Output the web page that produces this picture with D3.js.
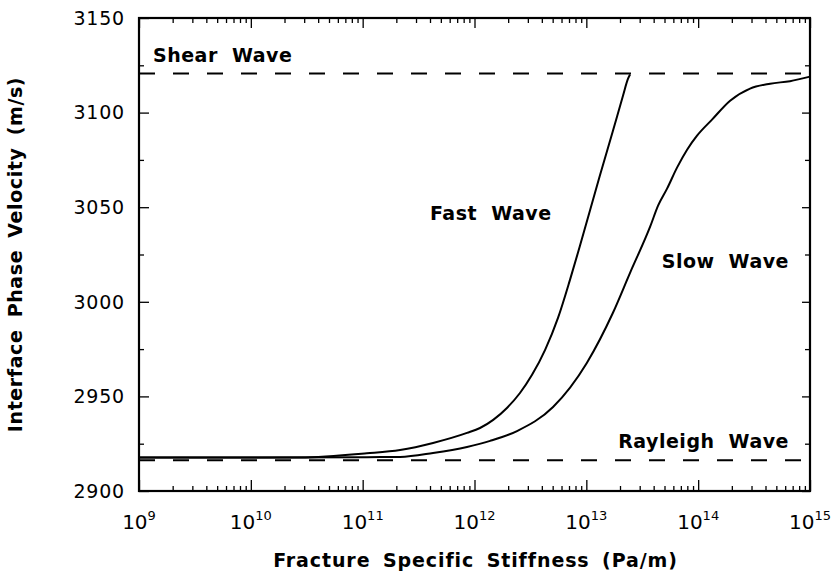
<!DOCTYPE html>
<html>
<head>
<meta charset="utf-8">
<script src="https://cdn.jsdelivr.net/npm/d3@7"></script>
<style>
  html, body { margin: 0; padding: 0; background: #fff; }
  svg { display: block; }
  text { font-family: "DejaVu Sans", sans-serif; fill: #000; }
</style>
</head>
<body>
<svg id="chart" width="837" height="577"></svg>
<script>
// ---- data ----
const fastStiffness = [1e9, 2.75e10, 1.09e11, 2.16e11, 4.26e11, 8.57e11, 1.12e12, 1.47e12, 1.95e12,
  2.55e12, 3.27e12, 4.28e12, 5.58e12, 7.14e12, 8.77e12, 1.32e13, 1.73e13, 2.13e13, 2.36e13, 2.46e13];
const fastVelocity = [2917.7, 2917.7, 2919.9, 2921.7, 2925.4, 2930.7, 2933.3, 2937.6, 2943.9,
  2951.8, 2961.4, 2974.6, 2991.5, 3011.6, 3029.6, 3066.6, 3090.4, 3109.0, 3117.9, 3120.1];

const slowStiffness = [1e9, 1.09e11, 2.16e11, 4.26e11, 8.57e11, 1.38e12, 2.4e12, 5.04e12,
  1.01e13, 1.73e13, 2.46e13, 3.72e13, 4.38e13, 5.27e13, 6.47e13, 7.96e13, 9.77e13, 1.33e14,
  1.93e14, 2.91e14, 4.40e14, 6.62e14, 1e15];
const slowVelocity = [2917.7, 2917.9, 2918.0, 2920.1, 2923.3, 2926.5, 2931.7, 2944.4,
  2967.7, 2994.2, 3015.3, 3039.7, 3050.8, 3059.8, 3070.9, 3080.4, 3087.8, 3096.3,
  3106.3, 3112.7, 3115.3, 3116.6, 3119.0];

const shearVelocity = 3120.6;
const rayleighVelocity = 2916.2;

const yTickValues = [2900, 2950, 3000, 3050, 3100, 3150];
const yMinorValues = [2925, 2975, 3025, 3075, 3125];
const xTickExponents = [9, 10, 11, 12, 13, 14, 15];

const xTitle = "Fracture Specific Stiffness (Pa/m)";
const yTitle = "Interface Phase Velocity (m/s)";
const curveLabels = ["Shear Wave", "Fast Wave", "Slow Wave", "Rayleigh Wave"];

// ---- layout ----
const W = 837, H = 577;
const margin = { left: 139, right: 27, top: 18, bottom: 86 };
const x0 = margin.left, x1 = W - margin.right, y0 = margin.top, y1 = H - margin.bottom;

const svg = d3.select("#chart");
const x = d3.scaleLog().domain([1e9, 1e15]).range([x0, x1]);
const y = d3.scaleLinear().domain([2900, 3150]).range([y1, y0]);

const ink = "#000";

// minor log values
const xMinor = [];
for (let d = 9; d < 15; d++) for (let k = 2; k <= 9; k++) xMinor.push(k * Math.pow(10, d));
const xMajor = xTickExponents.map(e => Math.pow(10, e));

// ---- axes (ticks pointing inward) ----
const gb = svg.append("g").attr("transform", `translate(0,${y1})`);
gb.call(d3.axisTop(x).tickValues(xMajor).tickSize(11).tickFormat(""));
gb.append("g").call(d3.axisTop(x).tickValues(xMinor).tickSize(5).tickFormat(""));
const gt = svg.append("g").attr("transform", `translate(0,${y0})`);
gt.call(d3.axisBottom(x).tickValues(xMajor).tickSize(10).tickFormat(""));
gt.append("g").call(d3.axisBottom(x).tickValues(xMinor).tickSize(5).tickFormat(""));
const gl = svg.append("g").attr("transform", `translate(${x0},0)`);
gl.call(d3.axisRight(y).tickValues(yTickValues).tickSize(10).tickFormat(""));
gl.append("g").call(d3.axisRight(y).tickValues(yMinorValues).tickSize(5).tickFormat(""));
const gr = svg.append("g").attr("transform", `translate(${x1},0)`);
gr.call(d3.axisLeft(y).tickValues(yTickValues).tickSize(8).tickFormat(""));
gr.append("g").call(d3.axisLeft(y).tickValues(yMinorValues).tickSize(5).tickFormat(""));

svg.selectAll(".domain").remove();
svg.selectAll(".tick line").attr("stroke", ink).attr("stroke-width", 1.3);

// frame
svg.append("rect").attr("x", x0).attr("y", y0).attr("width", x1 - x0).attr("height", y1 - y0)
  .attr("fill", "none").attr("stroke", ink).attr("stroke-width", 2.2);

// y tick labels
svg.append("g").selectAll("text").data(yTickValues).join("text")
  .attr("x", x0 - 14).attr("y", d => y(d)).attr("dy", "0.36em")
  .attr("text-anchor", "end").style("font-size", "19px").style("letter-spacing", "0.8px")
  .text(d => d);

// x tick labels with superscripts
const xl = svg.append("g").selectAll("text").data(xTickExponents).join("text")
  .attr("x", e => x(Math.pow(10, e))).attr("y", 529)
  .attr("text-anchor", "middle").style("font-size", "20px");
xl.append("tspan").text("10");
xl.append("tspan").attr("dy", -9).style("font-size", "13px").text(e => e);

// axis titles
svg.append("text").attr("x", (x0 + x1) / 2 + 1).attr("y", 567).attr("text-anchor", "middle")
  .style("font-size", "19px").style("font-weight", "bold").style("letter-spacing", "0.9px")
  .style("word-spacing", "5px").text(xTitle);
svg.append("text").attr("transform", `translate(22,${(y0 + y1) / 2}) rotate(-90)`)
  .attr("text-anchor", "middle")
  .style("font-size", "19px").style("font-weight", "bold").style("letter-spacing", "0.6px")
  .style("word-spacing", "5px").text(yTitle);

// reference dashed lines
const dashed = [shearVelocity, rayleighVelocity];
svg.append("g").selectAll("line").data(dashed).join("line")
  .attr("x1", x0).attr("x2", x1).attr("y1", d => y(d)).attr("y2", d => y(d))
  .attr("stroke", ink).attr("stroke-width", 2).attr("stroke-dasharray", "16,18");

// curves
const line = d3.line().x(d => x(d[0])).y(d => y(d[1])).curve(d3.curveMonotoneX);
const fast = d3.zip(fastStiffness, fastVelocity);
const slow = d3.zip(slowStiffness, slowVelocity);
svg.append("path").datum(fast).attr("d", line).attr("fill", "none").attr("stroke", ink).attr("stroke-width", 2);
svg.append("path").datum(slow).attr("d", line).attr("fill", "none").attr("stroke", ink).attr("stroke-width", 2);

// curve labels
const labelPos = [
  { t: curveLabels[0], x: 153, y: 62, a: "start" },
  { t: curveLabels[1], x: 430, y: 220, a: "start" },
  { t: curveLabels[2], x: 789, y: 268, a: "end" },
  { t: curveLabels[3], x: 789, y: 448, a: "end" }
];
svg.append("g").selectAll("text").data(labelPos).join("text")
  .attr("x", d => d.x).attr("y", d => d.y).attr("text-anchor", d => d.a)
  .style("font-size", "19px").style("font-weight", "bold").style("letter-spacing", "0.5px")
  .style("word-spacing", "7px").text(d => d.t);
</script>
</body>
</html>
